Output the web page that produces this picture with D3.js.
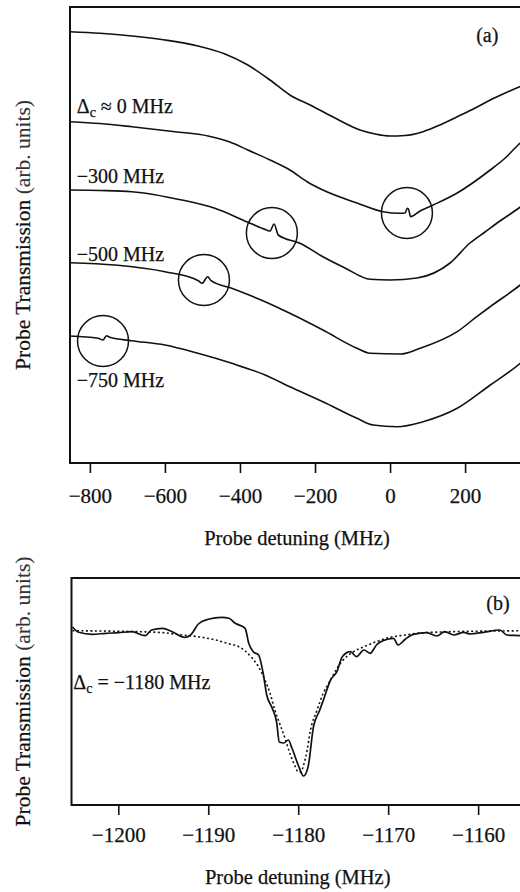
<!DOCTYPE html>
<html>
<head>
<meta charset="utf-8">
<script src="https://cdn.jsdelivr.net/npm/d3@7"></script>
<style>
  body { margin: 0; background: #fff; }
  text { font-family: "Liberation Serif", "Times New Roman", serif; fill: #111; stroke: #111; stroke-width: 0.25px; }
</style>
</head>
<body>
<div id="chart"></div>
<script>

// ---- data (x in MHz, y in arb. units) ----
const xTicksA = [-800, -600, -400, -200, 0, 200];
const xTicksB = [-1200, -1190, -1180, -1170, -1160];

// panel (a): probe scans, top = no coupling, then Δc ≈ 0, -300, -500, -750 MHz
const traceRef = [[-853,431.3],[-773,429.7],[-688,427],[-600,423],[-512,417],[-440,409],[-379,398],[-320,383],
  [-267,368],[-213,358],[-152,346],[-80,333],[-40,329],[0,327],[40,327.5],[88,331.3],[133,338],[179,346.3],
  [227,355],[267,363],[307,370],[357,378]];
const traceC0 = [[-853,341.3],[-773,339.5],[-688,336.3],[-573,331.3],[-485,327],[-427,321],[-379,313],[-320,303],
  [-267,293],[-221,281.3],[-179,273],[-88,260],[-19,251.3],[27,249.7],[40,250],[46,254.7],[49,254],[55,246.3],
  [80,252],[115,258],[179,270],[267,293],[307,305],[347,320],[357,323]];
const traceC300 = [[-853,273],[-773,272.5],[-688,271.3],[-555,263],[-467,254.7],[-382,241.3],[-329,233],[-320,232],
  [-309,239],[-298,228],[-240,219.7],[-179,206.3],[-120,195],[-53,183.7],[0,183],[72,185],[160,200],[213,220],
  [253,231],[293,242],[347,256],[357,259]];
const traceC500 = [[-853,200.3],[-733,198],[-600,191.3],[-511,182.3],[-501,179.7],[-486,186.3],[-477,182.3],
  [-422,174.7],[-333,161.3],[-267,149.7],[-179,133],[-88,114.7],[-53,109.7],[27,109],[80,114.7],[179,131.3],
  [231,146.3],[267,156.3],[347,178],[357,181]];
const traceC750 = [[-853,127],[-778,124.7],[-765,123],[-756,127.3],[-747,125.7],[-689,122.3],[-600,118],[-512,109.7],
  [-422,99.7],[-333,88],[-267,76.3],[-179,61.3],[-88,44.7],[-45,38],[19,36.3],[88,41.3],[179,54.7],[267,78],
  [347,99.7],[357,103]];
const markers = [[45,250],[-315,230],[-496,183],[-765,122]];
const labelsA = [["−300 MHz",-835,280],["−500 MHz",-835,202],["−750 MHz",-835,76]];

// panel (b): Δc = -1180 MHz, measured (solid) and fit (dotted)
const sweepB = [[-1205.1,178],[-1204.4,172.7],[-1202.9,170.7],[-1201.4,171.7],[-1200.0,172.3],[-1198.5,173.3],
  [-1197.0,169.3],[-1196.3,175],[-1195.1,176.7],[-1194.0,173.3],[-1192.6,167.7],[-1191.8,171.7],[-1191.1,181],
  [-1190.0,185.7],[-1188.5,187.7],[-1187.7,186.7],[-1187.0,181.7],[-1185.9,176.7],[-1185.5,161.7],[-1185.0,153.3],
  [-1184.4,150],[-1183.9,132],[-1183.5,110],[-1182.9,97],[-1182.4,83],[-1182.1,63],[-1181.6,62],[-1181.1,65],
  [-1180.7,57],[-1180.0,40],[-1179.4,29],[-1178.9,38.3],[-1178.3,78.3],[-1177.6,95],[-1177.2,105],[-1176.4,125],
  [-1175.7,133.3],[-1175.1,148.3],[-1174.2,153.3],[-1173.5,148.3],[-1172.7,155],[-1172.0,151.7],[-1171.3,160],
  [-1170.1,165.7],[-1169.4,166.7],[-1168.9,160],[-1168.1,165.7],[-1167.2,170.7],[-1165.7,172.3],[-1164.6,169],
  [-1163.7,173.3],[-1162.7,170],[-1161.6,172.7],[-1160.9,171],[-1159.4,172.7],[-1157.6,175],[-1156.8,170],
  [-1155.3,169.3],[-1154.9,169]];
const fitB = [[-1205.1,174.3],[-1202,174],[-1198.7,173.5],[-1195.3,172.5],[-1192.9,170],[-1190.9,168],[-1189.2,165],
  [-1187.6,161],[-1186.6,158.3],[-1185.9,154],[-1185.1,146.7],[-1184.4,138],[-1183.7,125],[-1183.1,111],
  [-1182.6,95],[-1182,80],[-1181.4,65],[-1180.9,51],[-1180.4,40],[-1180,33],[-1179.7,33],[-1179.4,40],[-1179,55],
  [-1178.7,72],[-1177.9,95],[-1177.2,112],[-1176.4,125],[-1175.8,135],[-1175,145],[-1173.9,153],[-1172.7,158.3],
  [-1171.4,163],[-1169.8,167.7],[-1168.1,170],[-1166.8,171.7],[-1164.2,173],[-1160.9,173.7],[-1157.6,174],
  [-1154.9,174.3]];

// ---- layout ----
const width = 520, height = 892;
const svg = d3.select("#chart").append("svg")
  .attr("width", width).attr("height", height);

const xA = d3.scaleLinear().domain([-853, 357]).range([70, 524]);
const yA = d3.scaleLinear().domain([0, 456]).range([463, 7]);
const xB = d3.scaleLinear().domain([-1205.2, -1154.9]).range([71.5, 524]);
const yB = d3.scaleLinear().domain([0, 227]).range([805, 578]);

function frame(x, y, ticks, pad, xlabel, xlabelY) {
  const [x0, x1] = x.range(), [y0, y1] = y.range();
  svg.append("rect")
    .attr("x", x0).attr("y", y1).attr("width", x1 - x0).attr("height", y0 - y1)
    .attr("fill", "none").attr("stroke", "#111").attr("stroke-width", 2);

  const ax = svg.append("g")
    .attr("transform", `translate(0,${y0})`)
    .call(d3.axisBottom(x).tickValues(ticks).tickSize(10).tickPadding(pad)
      .tickFormat(d => d3.format("d")(d).replace("-", "−")));
  ax.select(".domain").remove();
  ax.selectAll("line").attr("stroke", "#111").attr("stroke-width", 1.6);
  ax.selectAll("text").attr("font-size", 21).attr("fill", "#111")
    .style("font-family", '"Liberation Serif", "Times New Roman", serif');

  svg.append("text")
    .attr("x", (x0 + x1) / 2).attr("y", xlabelY)
    .attr("text-anchor", "middle").attr("font-size", 20.5)
    .text(xlabel);

  const yl = svg.append("text")
    .attr("transform", `translate(30,${(y0 + y1) / 2}) rotate(-90)`)
    .attr("text-anchor", "middle").attr("font-size", 21.5);
  yl.append("tspan").text("Probe Transmission ");
  yl.append("tspan").attr("fill", "#333").attr("stroke", "#333").attr("stroke-width", 0.1).text("(arb. units)");
}

frame(xA, yA, xTicksA, 15, "Probe detuning (MHz)", 545);
frame(xB, yB, xTicksB, 12, "Probe detuning (MHz)", 884);

// ---- panel (a) ----
const lineA = d3.line().curve(d3.curveMonotoneX).x(d => xA(d[0])).y(d => yA(d[1]));
[traceRef, traceC0, traceC300, traceC500, traceC750].forEach(tr => {
  svg.append("path").datum(tr)
    .attr("fill", "none").attr("stroke", "#111").attr("stroke-width", 1.6)
    .attr("d", lineA);
});

svg.selectAll("circle.mark").data(markers).join("circle")
  .attr("class", "mark")
  .attr("cx", d => xA(d[0])).attr("cy", d => yA(d[1])).attr("r", 25.5)
  .attr("fill", "none").attr("stroke", "#111").attr("stroke-width", 1.5);

const dl = svg.append("text").attr("x", xA(-835)).attr("y", yA(350)).attr("font-size", 20);
dl.append("tspan").text("Δ");
dl.append("tspan").attr("font-size", 14).attr("dy", 4).text("c");
dl.append("tspan").attr("dy", -4).text(" ≈ 0 MHz");

svg.selectAll("text.lab").data(labelsA).join("text")
  .attr("class", "lab")
  .attr("x", d => xA(d[1])).attr("y", d => yA(d[2])).attr("font-size", 20)
  .text(d => d[0]);

svg.append("text").attr("x", xA(259)).attr("y", yA(421))
  .attr("text-anchor", "middle").attr("font-size", 20).text("(a)");

// ---- panel (b) ----
const lineB = d3.line().curve(d3.curveMonotoneX).x(d => xB(d[0])).y(d => yB(d[1]));
svg.append("path").datum(fitB)
  .attr("fill", "none").attr("stroke", "#111").attr("stroke-width", 1.6)
  .attr("stroke-dasharray", "2,2.5").attr("d", lineB);
svg.append("path").datum(sweepB)
  .attr("fill", "none").attr("stroke", "#111").attr("stroke-width", 1.7)
  .attr("d", lineB);

const bl = svg.append("text").attr("x", xB(-1205)).attr("y", yB(116)).attr("font-size", 20);
bl.append("tspan").text("Δ");
bl.append("tspan").attr("font-size", 14).attr("dy", 4).text("c");
bl.append("tspan").attr("dy", -4).text(" = −1180 MHz");

svg.append("text").attr("x", xB(-1157.8)).attr("y", yB(195))
  .attr("text-anchor", "middle").attr("font-size", 20).text("(b)");

</script>
</body>
</html>
